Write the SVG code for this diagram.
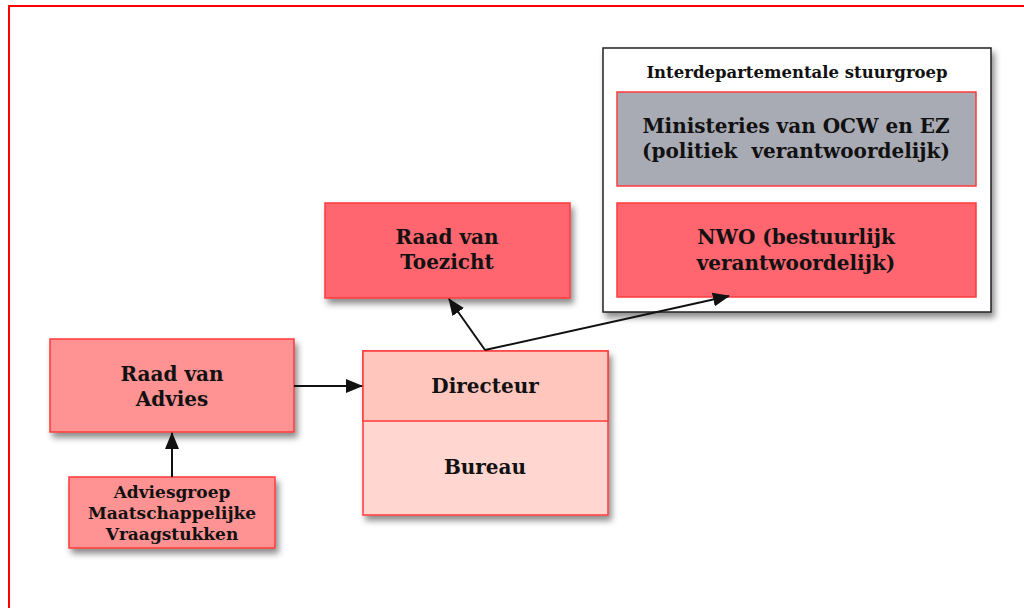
<svg xmlns="http://www.w3.org/2000/svg" width="1024" height="608" viewBox="0 0 1024 608">
<defs>
<style>
.t{font-family:"DejaVu Serif","Liberation Serif",serif;font-weight:bold;fill:#111;text-anchor:middle}
.box{stroke:#ff3b3b;stroke-width:1.5}
.con{stroke:#111;stroke-width:2;fill:none}
</style>
<filter id="sh" x="-10%" y="-10%" width="125%" height="135%">
<feDropShadow dx="3" dy="5" stdDeviation="3" flood-color="#000" flood-opacity="0.45"/>
</filter>
<marker id="ah" markerWidth="17" markerHeight="14" refX="16" refY="7" orient="auto" markerUnits="userSpaceOnUse">
<path d="M0,0 L17,7 L0,14 Z" fill="#111"/>
</marker>
</defs>
<rect width="1024" height="608" fill="#fff"/>
<rect x="9" y="6" width="1030" height="620" fill="none" stroke="#ff0000" stroke-width="2"/>

<g id="stuurgroep">
<rect x="603" y="48" width="388" height="264" fill="#fff" stroke="#222" stroke-width="1.5" filter="url(#sh)"/>
<text class="t" x="797" y="78" font-size="16.5">Interdepartementale stuurgroep</text>
</g>
<g id="ministeries">
<rect class="box" x="617" y="92" width="359" height="94" fill="#a9abb4"/>
<text class="t" x="796" y="133" font-size="20">Ministeries van OCW en EZ</text>
<text class="t" x="796" y="158" font-size="20" xml:space="preserve">(politiek  verantwoordelijk)</text>
</g>
<g id="nwo">
<rect class="box" x="617" y="203" width="359" height="94" fill="#ff6670"/>
<text class="t" x="796" y="244" font-size="20">NWO (bestuurlijk</text>
<text class="t" x="796" y="270" font-size="20">verantwoordelijk)</text>
</g>
<g id="toezicht">
<rect class="box" x="325" y="203" width="245" height="95" fill="#ff6670" filter="url(#sh)"/>
<text class="t" x="447" y="244" font-size="20">Raad van</text>
<text class="t" x="447" y="269" font-size="20">Toezicht</text>
</g>
<g id="directeur">
<rect class="box" x="363" y="351" width="245" height="164" fill="#ffd6d0" filter="url(#sh)"/>
<rect class="box" x="363" y="351" width="245" height="70" fill="#ffc6be"/>
<text class="t" x="485" y="393" font-size="20">Directeur</text>
<text class="t" x="485" y="474" font-size="20">Bureau</text>
</g>
<g id="advies">
<rect class="box" x="50" y="339" width="244" height="93" fill="#ff9292" filter="url(#sh)"/>
<text class="t" x="172" y="381" font-size="20">Raad van</text>
<text class="t" x="172" y="406" font-size="20">Advies</text>
</g>
<g id="adviesgroep">
<rect class="box" x="69" y="477" width="206" height="71" fill="#ff9292" filter="url(#sh)"/>
<text class="t" x="172" y="498" font-size="17">Adviesgroep</text>
<text class="t" x="172" y="519" font-size="17">Maatschappelijke</text>
<text class="t" x="172" y="540" font-size="17">Vraagstukken</text>
</g>
<g id="connectors">
<line class="con" x1="294" y1="386" x2="362" y2="386" marker-end="url(#ah)"/>
<line class="con" x1="172" y1="477" x2="172" y2="433" marker-end="url(#ah)"/>
<line class="con" x1="485" y1="350" x2="449" y2="299" marker-end="url(#ah)"/>
<line class="con" x1="485" y1="350" x2="729" y2="296" marker-end="url(#ah)"/>
</g>
</svg>
